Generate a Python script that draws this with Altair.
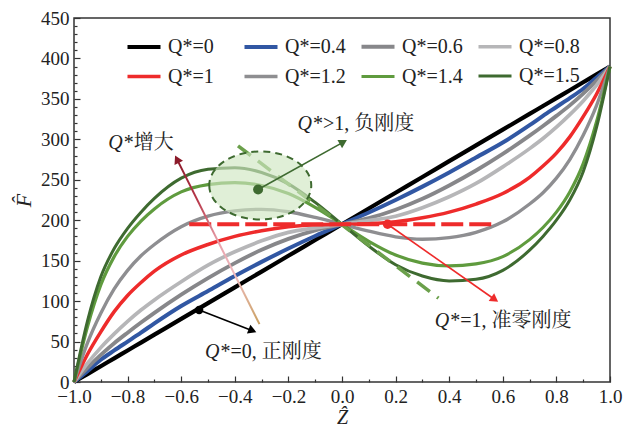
import altair as alt
import pandas as pd

# ---------------- data ----------------
z = [-1.0, -0.95, -0.9, -0.85, -0.8, -0.75, -0.7, -0.6, -0.5, -0.4, -0.3, -0.2, -0.1, 0.0,
     0.1, 0.2, 0.3, 0.4, 0.5, 0.6, 0.7, 0.75, 0.8, 0.85, 0.9, 0.95, 1.0]

f_q00 = [0, 9.75, 19.5, 29.25, 39, 48.75, 58.5, 78, 97.5, 117, 136.5, 156, 175.5, 195,
         214.5, 234, 253.5, 273, 292.5, 312, 331.5, 341.25, 351, 360.75, 370.5, 380.25, 390]
f_q04 = [0, 13.5, 27.5, 39, 50, 61, 72.5, 94, 112.5, 131, 148.5, 165, 180.5, 195,
         209.5, 225, 241.5, 259, 277.5, 296, 317.5, 329, 340, 351, 362.5, 376.5, 390]
f_q06 = [0, 17.5, 33.5, 48, 61, 73.5, 85.5, 108, 128.5, 147, 163.5, 177, 187.5, 195,
         202.5, 213, 226.5, 243, 261.5, 282, 304.5, 316.5, 329, 342, 356.5, 372.5, 390]
f_q08 = [0, 23, 42.5, 59.5, 75, 89, 101.5, 124, 144.5, 161, 174.5, 185, 190.5, 195,
         199.5, 205, 215.5, 229, 245.5, 266, 288.5, 301, 315, 330.5, 347.5, 367, 390]
f_q10 = [0, 34, 62, 87, 107, 123, 137, 157, 170, 180, 187, 192, 194.5, 195,
         195.5, 198, 203, 210, 220, 233, 253, 267, 283, 303, 328, 356, 390]
f_q12 = [0, 48, 85, 115, 138, 156, 170, 192, 205, 211.5, 213.5, 210.5, 203.5, 195,
         186.5, 179.5, 176.5, 178.5, 185, 198, 220, 234, 252, 275, 305, 342, 390]
f_q14 = [0, 68, 120, 155, 180, 199, 214, 235, 244, 246.5, 243, 233, 216, 195,
         174, 157, 147, 143.5, 146, 155, 176, 191, 210, 235, 270, 322, 390]
f_q15 = [0, 75, 130, 165, 190, 210, 227, 252, 263, 265, 259, 245, 222, 195,
         168, 145, 131, 125, 127, 138, 163, 180, 200, 225, 260, 315, 390]

series_labels = ["Q*=0", "Q*=0.4", "Q*=0.6", "Q*=0.8",
                 "Q*=1", "Q*=1.2", "Q*=1.4", "Q*=1.5"]
legend_order = ["Q*=0", "Q*=1", "Q*=0.4", "Q*=1.2",
                "Q*=0.6", "Q*=1.4", "Q*=0.8", "Q*=1.5"]
series_values = [f_q00, f_q04, f_q06, f_q08, f_q10, f_q12, f_q14, f_q15]
series_colors = ["#000000", "#3157a3", "#87878a", "#b6b6b8",
                 "#ee2b2b", "#8e8e91", "#5f9b3e", "#3e6a30"]
series_widths = [4.2, 3, 3, 2, 3, 2.2, 3, 3.5]

x_major = [-1.0, -0.8, -0.6, -0.4, -0.2, 0.0, 0.2, 0.4, 0.6, 0.8, 1.0]
x_minor = [-0.9, -0.7, -0.5, -0.3, -0.1, 0.1, 0.3, 0.5, 0.7, 0.9]
y_major = [0, 50, 100, 150, 200, 250, 300, 350, 400, 450]
y_minor = [10, 20, 30, 40, 60, 70, 80, 90, 110, 120, 130, 140, 160, 170, 180, 190,
           210, 220, 230, 240, 260, 270, 280, 290, 310, 320, 330, 340, 360, 370,
           380, 390, 410, 420, 430, 440]

# annotations
qzs_line_z = [-0.57, 0.57]
qzs_line_f = [195, 195]
tangent_z = [-0.388, 0.36]
tangent_f = [292, 103.6]
ellipse_z = [-0.305]
ellipse_f = [243]

arrow_z1 = [-0.533, 0.17, -0.313]
arrow_f1 = [89, 195, 238]
arrow_z2 = [-0.334, 0.57, 0.005]
arrow_f2 = [63.4, 102, 296.6]
arrow_col = ["#000000", "#ee2b2b", "#3e6a30"]

grow_z = [-0.308, -0.616]
grow_f = [71.5, 275.5]

head_z = [-0.334, 0.57, 0.005, -0.616]
head_f = [63.4, 102, 296.6, 275.5]
head_ang = [111.5, 125.1, 60.9, 333.4]
head_col = ["#000000", "#ee2b2b", "#3e6a30", "#8b1a2a"]

dot_z = [-0.533, 0.17, -0.313]
dot_f = [89, 195, 238]
dot_col = ["#000000", "#ee2b2b", "#3e6a30"]
dot_size = [70, 90, 100]

ann_z = [-0.457, 0.40, -0.112, -0.818]
ann_f = [37, 75, 319, 296]
ann_q = ["Q", "Q", "Q", "Q"]
ann_rest = ["*=0, 正刚度", "*=1, 准零刚度", "*>1, 负刚度", "*增大"]

# ---------------- build tables ----------------
rows = []
for lab, vals in zip(series_labels, series_values):
    for zz, ff in zip(z, vals):
        rows.append({"Z": zz, "F": ff, "label": lab})
curves_df = pd.DataFrame(rows)

W, H = 536, 364
xs = alt.Scale(domain=[-1, 1], nice=False, zero=False)
ys = alt.Scale(domain=[0, 450], nice=False, zero=False)

SERIF = "Liberation Serif"
CJK = "Liberation Serif, Noto Serif CJK SC, Noto Sans CJK SC"


def make_legend():
    return alt.Legend(title=None, orient="none", legendX=51, legendY=10,
                      columns=4, gridAlign="all", columnPadding=7,
                      rowPadding=1, symbolType="stroke", values=legend_order,
                      symbolSize=1089, labelFont=SERIF,
                      labelFontSize=20, labelColor="#222", labelOffset=5)


curves = alt.Chart(curves_df).mark_line(interpolate="monotone").encode(
    x=alt.X("Z:Q", scale=xs,
            axis=alt.Axis(orient="bottom", values=x_major, format=".1f",
                          ticks=False, tickSize=0, domain=False, labelPadding=5,
                          labelFontSize=19,
                          title="Ẑ", titlePadding=1, titleFontSize=20,
                          labelFlush=False)),
    y=alt.Y("F:Q", scale=ys,
            axis=alt.Axis(orient="left", values=y_major, ticks=False, tickSize=0,
                          domain=False, labelPadding=5, labelFontSize=19, title="F̂",
                          titlePadding=5, labelFlush=False)),
    color=alt.Color("label:N",
                    scale=alt.Scale(domain=series_labels, range=series_colors),
                    legend=make_legend()),
    strokeWidth=alt.StrokeWidth("label:N",
                                scale=alt.Scale(domain=series_labels, range=series_widths),
                                legend=make_legend()),
    detail="label:N",
)

tick_df = pd.DataFrame({"Z": [0.0], "F": [0.0]})


def tick_layer(xv, yv, size):
    return alt.Chart(tick_df).mark_point(opacity=0).encode(
        x=alt.X("Z:Q", scale=xs,
                axis=alt.Axis(orient="top", offset=-H, values=xv, labels=False,
                              domain=False, tickSize=size, tickColor="#333",
                              tickWidth=1.2, title=None, grid=False)),
        y=alt.Y("F:Q", scale=ys,
                axis=alt.Axis(orient="right", offset=-W, values=yv, labels=False,
                              domain=False, tickSize=size, tickColor="#333",
                              tickWidth=1.2, title=None, grid=False)),
    )


major_ticks = tick_layer(x_major, y_major, 6)
minor_ticks = tick_layer(x_minor, y_minor, 3)

seg_df = pd.DataFrame({"Z": [tangent_z[0]], "F": [tangent_f[0]],
                       "Z2": [tangent_z[1]], "F2": [tangent_f[1]]})
tangent = alt.Chart(seg_df).mark_rule(color="#6ba04b", strokeWidth=3.5,
                                      strokeDash=[16, 9]).encode(
    x=alt.X("Z:Q", scale=xs, axis=None), y=alt.Y("F:Q", scale=ys, axis=None),
    x2="Z2:Q", y2="F2:Q")

qzs_df = pd.DataFrame({"Z": [qzs_line_z[0]], "Z2": [qzs_line_z[1]], "F": [qzs_line_f[0]]})
qzs = alt.Chart(qzs_df).mark_rule(color="#ee2b2b", strokeWidth=4,
                                  strokeDash=[22, 6]).encode(
    x=alt.X("Z:Q", scale=xs, axis=None), x2="Z2:Q",
    y=alt.Y("F:Q", scale=ys, axis=None))

ell_path = "M -1 0 A 1 0.667 0 1 0 1 0 A 1 0.667 0 1 0 -1 0 Z"
ell_df = pd.DataFrame({"Z": ellipse_z, "F": ellipse_f})
ellipse = alt.Chart(ell_df).mark_point(shape=ell_path, size=4 * 51 * 51, filled=True,
                                       fill="#cfe6c2", fillOpacity=0.65,
                                       stroke="#3e6a30", strokeWidth=2,
                                       strokeDash=[7, 5], opacity=1).encode(
    x=alt.X("Z:Q", scale=xs, axis=None), y=alt.Y("F:Q", scale=ys, axis=None))

arr_df = pd.DataFrame({"Z": arrow_z1, "F": arrow_f1, "Z2": arrow_z2, "F2": arrow_f2,
                       "c": arrow_col})
arrows = alt.Chart(arr_df).mark_rule(strokeWidth=1.6).encode(
    x=alt.X("Z:Q", scale=xs, axis=None), y=alt.Y("F:Q", scale=ys, axis=None),
    x2="Z2:Q", y2="F2:Q", color=alt.Color("c:N", scale=None))

grow_df = pd.DataFrame({"Z": grow_z, "F": grow_f})
grow = alt.Chart(grow_df).mark_line(
    strokeWidth=2,
    color=alt.Gradient(gradient="linear", x1=1, y1=1, x2=0, y2=0,
                       stops=[alt.GradientStop(color="#c9a060", offset=0),
                              alt.GradientStop(color="#f0bcc0", offset=0.3),
                              alt.GradientStop(color="#e8a0aa", offset=0.5),
                              alt.GradientStop(color="#b8384a", offset=0.75),
                              alt.GradientStop(color="#8b1a2a", offset=1)])).encode(
    x=alt.X("Z:Q", scale=xs, axis=None), y=alt.Y("F:Q", scale=ys, axis=None))

head_df = pd.DataFrame({"Z": head_z, "F": head_f, "a": head_ang, "c": head_col})
heads = alt.Chart(head_df).mark_point(shape="triangle-up", filled=True, size=90,
                                      opacity=1).encode(
    x=alt.X("Z:Q", scale=xs, axis=None), y=alt.Y("F:Q", scale=ys, axis=None),
    angle=alt.Angle("a:Q", scale=None), color=alt.Color("c:N", scale=None))

dot_df = pd.DataFrame({"Z": dot_z, "F": dot_f, "c": dot_col, "s": dot_size})
dots = alt.Chart(dot_df).mark_point(filled=True, opacity=1).encode(
    x=alt.X("Z:Q", scale=xs, axis=None), y=alt.Y("F:Q", scale=ys, axis=None),
    color=alt.Color("c:N", scale=None), size=alt.Size("s:Q", scale=None))

ann_df = pd.DataFrame({"Z": ann_z, "F": ann_f, "q": ann_q, "r": ann_rest})
ann_q_layer = alt.Chart(ann_df).mark_text(font=SERIF, fontSize=20, fontStyle="italic",
                                          align="right", baseline="middle",
                                          color="#222").encode(
    x=alt.X("Z:Q", scale=xs, axis=None), y=alt.Y("F:Q", scale=ys, axis=None), text="q:N")
ann_r_layer = alt.Chart(ann_df).mark_text(font=CJK, fontSize=20, align="left",
                                          baseline="middle", dx=1,
                                          color="#222").encode(
    x=alt.X("Z:Q", scale=xs, axis=None), y=alt.Y("F:Q", scale=ys, axis=None), text="r:N")

chart = alt.layer(
    curves, major_ticks, minor_ticks, tangent, qzs, ellipse, arrows, grow, heads,
    dots, ann_q_layer, ann_r_layer
).resolve_axis(x="independent", y="independent").properties(
    width=W, height=H,
    autosize=alt.AutoSizeParams(type="none"),
    padding={"left": 66, "top": 10, "right": 13, "bottom": 49},
).configure_view(stroke="#333", strokeWidth=1.5).configure_axis(
    labelFont=SERIF, labelFontSize=20, labelColor="#222",
    titleFont=SERIF, titleFontSize=22, titleFontStyle="italic",
    titleFontWeight="normal", titleColor="#222", grid=False,
).configure_legend(labelFont=SERIF, labelFontSize=20, labelColor="#222")

chart.save("out.html", embed_options={"renderer": "svg", "actions": False})
